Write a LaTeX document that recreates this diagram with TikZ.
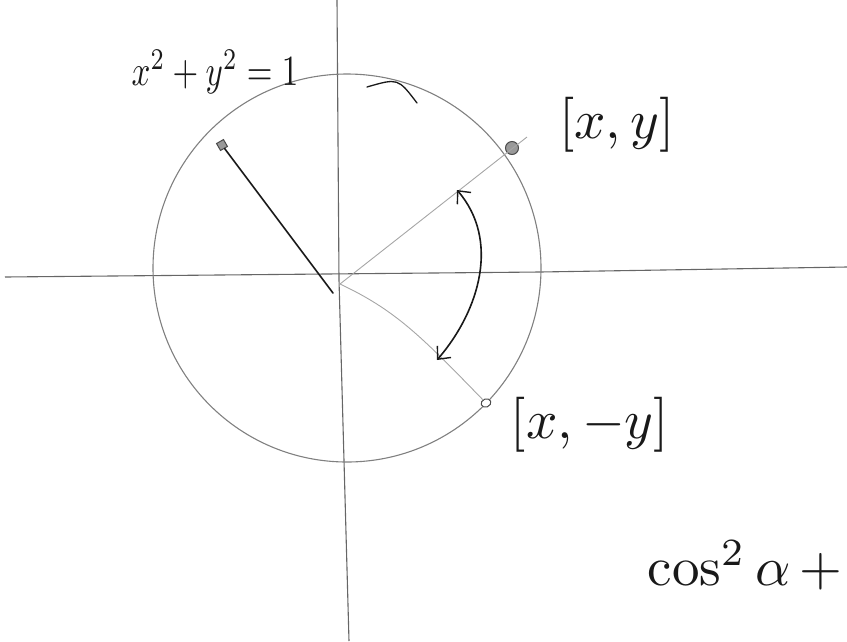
\documentclass[tikz,border=0pt]{standalone}
\usetikzlibrary{arrows.meta,shapes.geometric}
\begin{document}
\begin{tikzpicture}[x=1pt,y=-1pt,
  axisline/.style={draw=black!60, line width=1.1pt},
  circline/.style={draw=black!50, line width=1.1pt},
  rayline/.style={draw=black!35, line width=0.9pt},
  inkline/.style={draw=black!90, line width=1.6pt, line cap=round},
  dotmark/.style={draw=black!70, fill=black!40, line width=1pt, inner sep=0pt},
  lbl/.style={font=\normalsize, inner sep=0pt, text=black!90}]
\useasboundingbox (0,0) rectangle (847,641);
% axes
\coordinate (vtop) at (337,0);
\coordinate (vmid) at (339,280);
\coordinate (vbot) at (349,641);
\coordinate (hl) at (5,277);
\coordinate (hmid) at (540,272);
\coordinate (hr) at (847,267);
\draw[axisline] (vtop) -- (vmid) -- (vbot);
\draw[axisline] (hl) -- (hmid) -- (hr);
% circle
\node[circle, circline, minimum size=388pt, inner sep=0pt] (circ) at (347,268) {};
% origin
\coordinate (O) at (340,284);
% points
\node[dotmark, circle, minimum size=13pt] (P) at (512,148) {};
\node[dotmark, ellipse, fill=white, minimum width=10pt, minimum height=8pt, rotate=20] (Q) at (486,403) {};
\node[dotmark, rectangle, minimum size=8pt, rotate=30] (R) at (222,145) {};
\coordinate (Pend) at (527,137);
\coordinate (Rend) at (333,293);
% rays
\draw[rayline] (O) -- (Pend);
\draw[rayline] (O) .. controls (395,310) and (420,335) .. (Q);
\draw[inkline] (R) -- (Rend);
% double arrow
\coordinate (A1) at (437,360);
\coordinate (A2) at (457,190);
\draw[inkline, {Straight Barb[length=10pt,width=18pt,line width=1.4pt]}-{Straight Barb[length=10pt,width=18pt,line width=1.4pt]}]
  (A1) .. controls (480,310) and (500,240) .. (A2);
% small arc at top
\coordinate (B1) at (367,87);
\coordinate (B2) at (417,103);
\draw[inkline, line width=1.3pt] (B1) .. controls (398,78) .. (B2);
% labels
\node[lbl] (eq) at (215,72) {\scalebox{3.3}[4.3]{$x^2+y^2=1$}};
\node[lbl] (lp) at (617,125) {\scalebox{5.5}{$[x,y]$}};
\node[lbl] (lq) at (590,425) {\scalebox{5.5}{$[x,-y]$}};
\node[lbl] (cs) at (745,565) {\scalebox{5.5}{$\cos^2\alpha\,+$}};
\end{tikzpicture}
\end{document}
